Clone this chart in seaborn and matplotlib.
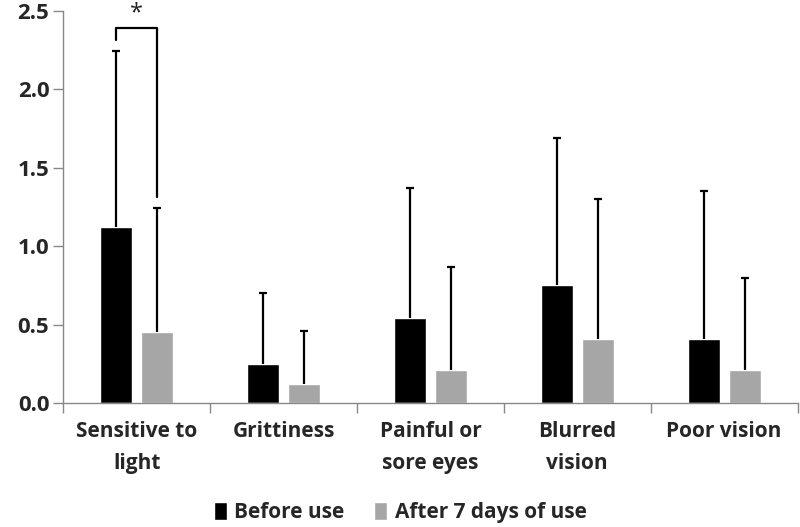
import matplotlib
matplotlib.use("Agg")
import matplotlib.pyplot as plt
import seaborn as sns
import pandas as pd
import numpy as np

categories = ["Sensitive to\nlight", "Grittiness", "Painful or\nsore eyes", "Blurred\nvision", "Poor vision"]
groups = ["Before use", "After 7 days of use"]
before_mean = [1.12, 0.25, 0.54, 0.75, 0.41]
before_err = [1.12, 0.45, 0.83, 0.94, 0.94]
after_mean = [0.45, 0.12, 0.21, 0.41, 0.21]
after_err = [0.79, 0.34, 0.66, 0.89, 0.59]
yticks = [0.0, 0.5, 1.0, 1.5, 2.0, 2.5]
sig_bracket_y = 2.39
sig_left_low = 2.31
sig_right_low = 1.31

colors = ["#000000", "#a6a6a6"]

sns.set_theme(style="white")
plt.rcParams['font.family'] = ['Open Sans', 'DejaVu Sans']

df = pd.DataFrame({
    "category": categories * 2,
    "group": [groups[0]] * 5 + [groups[1]] * 5,
    "value": before_mean + after_mean,
})

fig = plt.figure(figsize=(8, 5.27), dpi=100)
ax = fig.add_axes([0.079, 0.235, 0.918, 0.745])

sns.barplot(data=df, x="category", y="value", hue="group", order=categories,
            hue_order=groups, palette=colors, width=0.56, gap=0.22,
            errorbar=None, ax=ax, saturation=1)

# error bars (upper only)
bars = ax.containers
for cont, means, errs in zip(bars, [before_mean, after_mean], [before_err, after_err]):
    xs = np.array([r.get_x() + r.get_width() / 2 for r in cont])
    m = np.array(means)
    tops = m + np.array(errs)
    ax.vlines(xs, m, tops, color="black", lw=1.6, zorder=3)
    ax.plot(xs, tops, ls="none", marker="_", ms=6, mew=1.6, color="black", zorder=3)

# significance bracket
x_b = bars[0][0].get_x() + bars[0][0].get_width() / 2
x_a = bars[1][0].get_x() + bars[1][0].get_width() / 2
ax.plot([x_b, x_b, x_a, x_a], [sig_left_low, sig_bracket_y, sig_bracket_y, sig_right_low],
        color="black", lw=1.6, zorder=3)
ax.text((x_b + x_a) / 2, sig_bracket_y + 0.015, "*", ha="center", va="bottom",
        fontsize=17, color="#222222")

ax.set_xlim(-0.5, 4.5)
ax.set_ylim(0, 2.5)
ax.set_yticks(yticks)
ax.set_yticklabels([f"{t:.1f}" for t in yticks], fontsize=16, fontweight="bold")
ax.set_xlabel("")
ax.set_ylabel("")
ax.set_xticks(range(len(categories)))
ax.set_xticklabels(categories, fontsize=15, fontweight="bold", linespacing=1.7, va="top")
ax.set_xticks(np.arange(-0.5, 4.6, 1.0), minor=True)
ax.tick_params(axis="x", which="major", length=0, pad=13)
ax.tick_params(axis="x", which="minor", length=7, width=1, color="#888888", direction="out", bottom=True)
ax.tick_params(axis="y", length=7, width=1, color="#888888", direction="out", left=True, pad=3)

for s in ["top", "right"]:
    ax.spines[s].set_visible(False)
for s in ["left", "bottom"]:
    ax.spines[s].set_color("#888888")
    ax.spines[s].set_linewidth(1)

leg = fig.legend(*ax.get_legend_handles_labels(), loc="center", bbox_to_anchor=(0.5, 0.027), ncol=2,
                 frameon=False, prop={"weight": "bold", "size": 15},
                 handlelength=0.65, handleheight=0.9, handletextpad=0.35, columnspacing=1.4)
ax.get_legend().remove()

fig.savefig("out.png", dpi=100)
